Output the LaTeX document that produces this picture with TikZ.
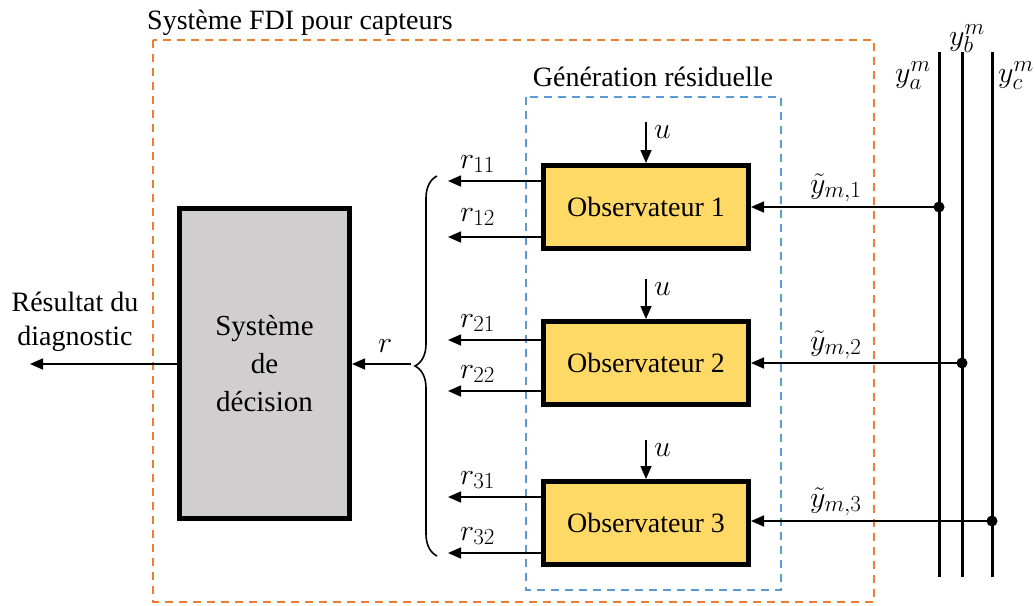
\RequirePackage{fix-cm}
\documentclass[tikz,border=0pt]{standalone}
\usepackage{fontspec}
\setmainfont{Liberation Serif}
\DeclareMathSizes{28}{30}{23}{18}
\usetikzlibrary{arrows.meta,decorations.pathreplacing}
\definecolor{fdiorange}{HTML}{ED7D31}
\definecolor{resblue}{HTML}{5B9BD5}
\definecolor{obsfill}{HTML}{FFD966}
\definecolor{decfill}{HTML}{D0CECE}
\tikzset{
  bigtext/.style={font=\fontsize{28}{34}\selectfont},
  obsbox/.style={draw=black, line width=5pt, fill=obsfill, minimum width=205pt,
    minimum height=83pt, inner sep=0pt, bigtext},
  decbox/.style={draw=black, line width=5pt, fill=decfill, minimum width=170pt,
    minimum height=310pt, inner sep=0pt, align=center,
    font=\fontsize{29}{38}\selectfont},
  sig/.style={line width=1.6pt, -{Triangle[length=13pt,width=11pt]}},
  bus/.style={line width=3pt},
  tap/.style={circle, fill=black, inner sep=0pt, minimum size=11pt},
  lbl/.style={bigtext, inner sep=0pt},
  frame/.style={line width=1.8pt, dash pattern=on 8pt off 6pt},
}
\begin{document}
\begin{tikzpicture}[x=1pt,y=-1pt]
\useasboundingbox (0,0) rectangle (1035,605);

% outer FDI frame and residual-generation frame
\draw[frame, draw=fdiorange] (153,40) rectangle (874,602);
\node[lbl, anchor=base west] (tfdi) at (147,29) {Système FDI pour capteurs};
\draw[frame, draw=resblue] (526,97) rectangle (781,590);
\node[lbl, anchor=base] (tres) at (653,86) {Génération résiduelle};

% observers
\node[obsbox] (obs1) at (646,207) {Observateur 1};
\node[obsbox] (obs2) at (646,363) {Observateur 2};
\node[obsbox] (obs3) at (646,523) {Observateur 3};

% decision block
\node[decbox] (dec) at (264.5,363.5) {Système\\de\\décision};

% control inputs
\coordinate (u1) at (646,122);
\coordinate (u2) at (646,279);
\coordinate (u3) at (646,440);
\draw[sig] (u1) -- (obs1.north);
\draw[sig] (u2) -- (obs2.north);
\draw[sig] (u3) -- (obs3.north);
\node[lbl, anchor=base west] (lu1) at (654,138) {$u$};
\node[lbl, anchor=base west] (lu2) at (654,295) {$u$};
\node[lbl, anchor=base west] (lu3) at (654,456) {$u$};

% residual outputs
\coordinate (rend) at (448,0);
\draw[sig] ([yshift=26pt]obs1.west) -- ([yshift=26pt]obs1.west -| rend);
\draw[sig] ([yshift=-30pt]obs1.west) -- ([yshift=-30pt]obs1.west -| rend);
\draw[sig] ([yshift=23pt]obs2.west) -- ([yshift=23pt]obs2.west -| rend);
\draw[sig] ([yshift=-28pt]obs2.west) -- ([yshift=-28pt]obs2.west -| rend);
\draw[sig] ([yshift=26pt]obs3.west) -- ([yshift=26pt]obs3.west -| rend);
\draw[sig] ([yshift=-30pt]obs3.west) -- ([yshift=-30pt]obs3.west -| rend);
\node[lbl, anchor=base west] (lr11) at (460,168) {$r_{11}$};
\node[lbl, anchor=base west] (lr12) at (460,221) {$r_{12}$};
\node[lbl, anchor=base west] (lr21) at (460,327) {$r_{21}$};
\node[lbl, anchor=base west] (lr22) at (460,378) {$r_{22}$};
\node[lbl, anchor=base west] (lr31) at (460,484) {$r_{31}$};
\node[lbl, anchor=base west] (lr32) at (460,540) {$r_{32}$};

% grouping brace and residual vector
\draw[line width=1.6pt, decorate, decoration={brace, amplitude=22pt}]
  (437,556) -- (437,176);
\coordinate (rbr) at (411,364);
\draw[sig] (rbr) -- (rbr -| dec.east);
\node[lbl, anchor=base west] (lr) at (378,352) {$r$};

% diagnosis output
\coordinate (diag) at (30,364);
\draw[sig] (diag -| dec.west) -- (diag);
\node[lbl, align=center, anchor=center] (ldiag) at (75,322)
  {Résultat du\\diagnostic};

% measurement bus
\coordinate (ya0) at (939,52);  \coordinate (ya1) at (939,577);
\coordinate (yb0) at (962,52);  \coordinate (yb1) at (962,577);
\coordinate (yc0) at (992,52);  \coordinate (yc1) at (992,577);
\draw[bus] (ya0) -- (ya1);
\draw[bus] (yb0) -- (yb1);
\draw[bus] (yc0) -- (yc1);
\node[lbl, anchor=base west] (lya) at (895,82) {$y_a^m$};
\node[lbl, anchor=base west] (lyb) at (949,45) {$y_b^m$};
\node[lbl, anchor=base west] (lyc) at (998,82) {$y_c^m$};

% sensor taps feeding the observers
\node[tap] (t1) at (939,207) {};
\node[tap] (t2) at (962,363) {};
\node[tap] (t3) at (992,521) {};
\draw[sig] (t1.center) -- (obs1.east);
\draw[sig] (t2.center) -- (obs2.east);
\draw[sig] (t3.center) -- (t3.center -| obs3.east);
\node[lbl, anchor=base west] (lm1) at (810,193) {$\tilde{y}_{m,1}$};
\node[lbl, anchor=base west] (lm2) at (810,350) {$\tilde{y}_{m,2}$};
\node[lbl, anchor=base west] (lm3) at (810,507) {$\tilde{y}_{m,3}$};
\end{tikzpicture}
\end{document}
